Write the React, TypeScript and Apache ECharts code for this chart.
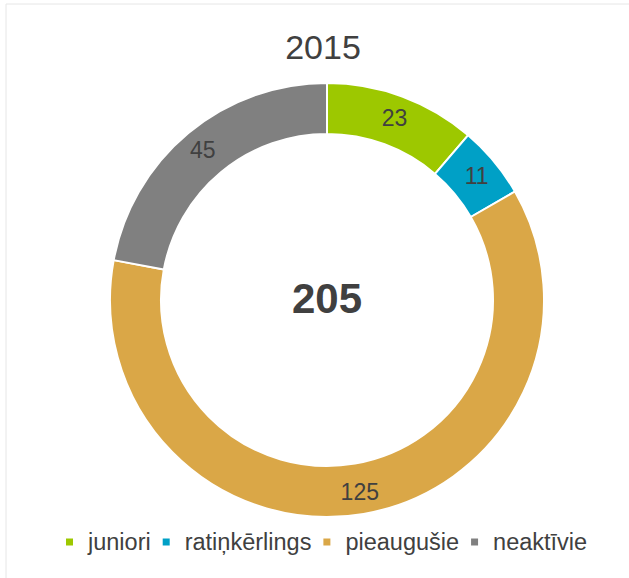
import React, { useEffect, useRef } from "react";
import * as echarts from "echarts";

const categories = ["juniori", "ratiņkērlings", "pieaugušie", "neaktīvie"];
const values = [23, 11, 125, 45];
const colors = ["#9dc800", "#00a0c6", "#daa747", "#808080"];
const chartTitle = "2015";
const centerTotal = "205";

export default function App() {
  const ref = useRef<HTMLDivElement>(null);
  useEffect(() => {
    if (!ref.current) return;
    const chart = echarts.init(ref.current, null, { renderer: "svg" });
    const font = "'Liberation Sans', Arial, sans-serif";
    chart.setOption({
      animation: false,
      backgroundColor: "#ffffff",
      color: colors,
      textStyle: { fontFamily: font },
      legend: {
        data: categories,
        left: 64,
        top: 530,
        padding: 0,
        icon: "rect",
        itemWidth: 9,
        itemHeight: 9,
        itemGap: 10,
        textStyle: { fontSize: 23.5, color: "#404040", fontFamily: font, padding: [0, 0, 0, 9] },
      },
      graphic: [
        {
          type: "rect",
          shape: { x: 6, y: 4, width: 700, height: 700 },
          style: { fill: "none", stroke: "#e6e6e6", lineWidth: 1 },
          silent: true,
        },
        {
          type: "text",
          x: 323,
          y: 46.5,
          style: {
            text: chartTitle,
            fontSize: 34,
            fill: "#404040",
            fontFamily: font,
            textAlign: "center",
            textVerticalAlign: "middle",
          },
        },
        {
          type: "text",
          x: 327,
          y: 298.5,
          style: {
            text: centerTotal,
            fontSize: 42,
            fontWeight: "bold",
            fill: "#404040",
            fontFamily: font,
            textAlign: "center",
            textVerticalAlign: "middle",
          },
        },
      ],
      series: [
        {
          type: "pie",
          center: [327, 300],
          radius: [166, 217],
          startAngle: 90,
          clockwise: true,
          avoidLabelOverlap: false,
          itemStyle: { borderColor: "#ffffff", borderWidth: 2 },
          label: {
            show: true,
            position: "inside",
            formatter: "{c}",
            fontSize: 23,
            color: "#404040",
            fontFamily: font,
          },
          labelLine: { show: false },
          emphasis: { disabled: true },
          data: categories.map((name, i) => ({ name, value: values[i] })),
        },
      ],
    });
    return () => chart.dispose();
  }, []);
  return (
    <div
      ref={ref}
      style={{ position: "fixed", left: 0, top: 0, width: 629, height: 578 }}
    />
  );
}
